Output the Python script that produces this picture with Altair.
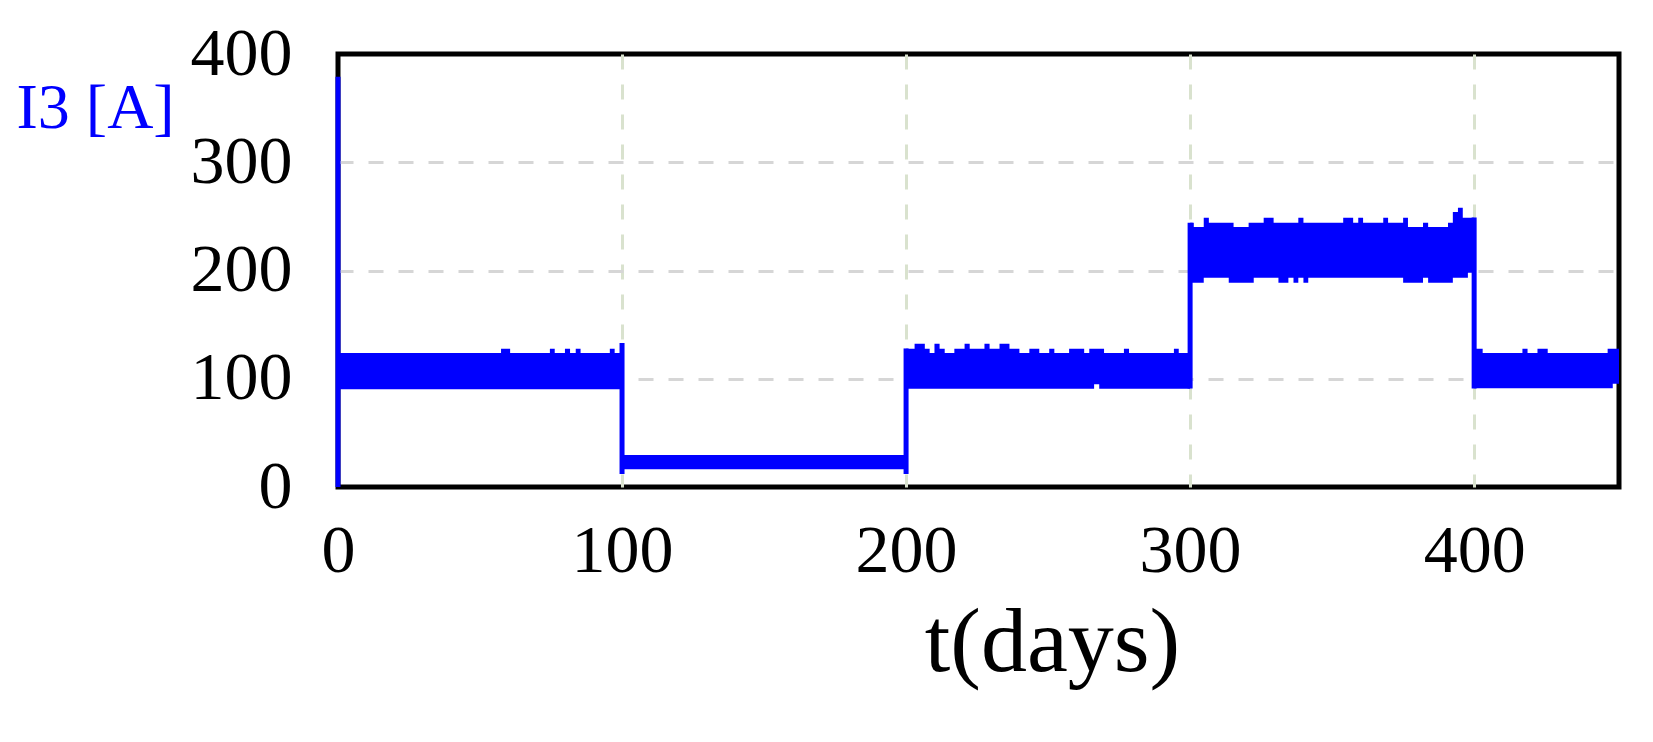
import altair as alt
import pandas as pd

# ---- data ----
# x tick values / y tick values
x_ticks = [0, 100, 200, 300, 400]
y_ticks = [0, 100, 200, 300, 400]

# Segment 1 (0-100 days)
seg1_top_x = [0, 57.4, 60.6, 74.6, 76.3, 79.9, 81.7, 83.7, 85.4, 95.7, 97.4]
seg1_top_y = [123.7, 127.7, 123.7, 127.7, 123.7, 127.7, 123.7, 127.7, 123.7, 127.7, 123.7]
seg1_bot_x = [0]
seg1_bot_y = [90.4]
seg1_end = 100

# Segment 2 (100-200 days)
seg2_top_x = [100]
seg2_top_y = [29.6]
seg2_bot_x = [100]
seg2_bot_y = [16.4]
seg2_end = 200

# Segment 3 (200-300 days)
seg3_top_x = [200, 203, 206.6, 208.3, 210, 211.8, 213.6, 217, 220.6, 222.4, 227.6, 229.4, 232.9,
              236.4, 239.9, 243.4, 246.9, 250.4, 252.2, 257.4, 262.7, 264.5, 269.7, 276.7, 278.5,
              294.3, 296]
seg3_top_y = [127.8, 132.4, 127.8, 123.8, 132.4, 127.8, 123.8, 127.8, 132.4, 127.8, 132.4, 127.8, 132.4,
              127.8, 123.8, 127.8, 123.8, 127.8, 123.8, 127.8, 123.8, 127.8, 123.8, 127.8, 123.8,
              127.8, 123.8]
seg3_bot_x = [200, 266.2, 268]
seg3_bot_y = [90.7, 95.0, 90.7]
seg3_end = 300

# Segment 4 (300-400 days)
seg4_top_x = [300, 301.3, 304.8, 306.6, 315.3, 320.6, 325.9, 329.4, 338.1, 339.9, 353.9, 357.4,
              359.2, 360.9, 368, 369.7, 375, 376.7, 382, 383.8, 390.8, 392.5, 394.3, 396]
seg4_top_y = [244.1, 240.1, 248.8, 244.1, 240.1, 244.1, 248.8, 244.1, 248.8, 244.1, 248.8, 244.1,
              248.8, 244.1, 248.8, 244.1, 248.8, 240.1, 244.1, 240.1, 244.1, 254.0, 258.0, 248.8]
seg4_bot_x = [300, 304.8, 313.6, 322.4, 331.1, 334.6, 336.4, 338.1, 339.9, 341.6, 375, 382,
              383.8, 392.5, 397.8]
seg4_bot_y = [188.6, 193.2, 188.6, 193.2, 188.6, 193.2, 188.6, 193.2, 188.6, 193.2, 188.6, 193.2,
              188.6, 193.2, 197.9]
seg4_end = 400

# Segment 5 (400-450 days)
seg5_top_x = [400, 403, 417, 418.8, 422.3, 425.9, 447]
seg5_top_y = [127.7, 123.7, 127.7, 123.7, 127.7, 123.7, 127.7]
seg5_bot_x = [400, 448.8]
seg5_bot_y = [91.3, 95.4]
seg5_end = 451

# Vertical jumps of the current between segments
jump_t = [0, 100, 200, 300, 400]
jump_lo = [0, 12, 12, 91, 91]
jump_hi = [379, 133, 128, 244, 249]


def build(seg_id, tx, ty, bx, by, end):
    bps = sorted(set(tx) | set(bx))
    rows = []
    for b in bps:
        hi = [ty[i] for i in range(len(tx)) if tx[i] <= b][-1]
        lo = [by[i] for i in range(len(bx)) if bx[i] <= b][-1]
        rows.append({"seg": seg_id, "t": b, "lo": lo, "hi": hi})
    rows.append({"seg": seg_id, "t": end, "lo": rows[-1]["lo"], "hi": rows[-1]["hi"]})
    return rows


rows = []
rows += build(1, seg1_top_x, seg1_top_y, seg1_bot_x, seg1_bot_y, seg1_end)
rows += build(2, seg2_top_x, seg2_top_y, seg2_bot_x, seg2_bot_y, seg2_end)
rows += build(3, seg3_top_x, seg3_top_y, seg3_bot_x, seg3_bot_y, seg3_end)
rows += build(4, seg4_top_x, seg4_top_y, seg4_bot_x, seg4_bot_y, seg4_end)
rows += build(5, seg5_top_x, seg5_top_y, seg5_bot_x, seg5_bot_y, seg5_end)
band_df = pd.DataFrame(rows)
jump_df = pd.DataFrame({"t": jump_t, "lo": jump_lo, "hi": jump_hi})

BLUE = "#0000ff"
FONT = "Liberation Serif"

xscale = alt.Scale(domain=[0, 451], nice=False, zero=False)
yscale = alt.Scale(domain=[0, 400], nice=False)

x_axis = alt.Axis(
    values=x_ticks, title="t(days)", domain=False, ticks=False,
    labelFont=FONT, labelFontSize=68, labelColor="black", labelPadding=30,
    labelFlush=False, labelOverlap=False,
    titleFont=FONT, titleFontSize=92, titleFontWeight="normal", titleColor="black",
    titleX=714, titleY=183, titleAlign="center", titleBaseline="alphabetic",
    grid=True, gridColor="#d9e2ce", gridDash=[15, 15], gridWidth=3,
    gridOpacity={"condition": {"test": "datum.value === 0", "value": 0}, "value": 1},
)
y_axis = alt.Axis(
    values=y_ticks, title="I3 [A]", domain=False, ticks=False,
    labelFont=FONT, labelFontSize=68, labelColor="black", labelPadding=46,
    labelFlush=False, labelOverlap=False, labelBaseline="middle",
    titleFont=FONT, titleFontSize=64, titleFontWeight="normal", titleColor=BLUE,
    titleAngle=0, titleX=-322, titleY=73, titleAlign="left", titleBaseline="alphabetic",
    grid=True, gridColor="#d6d6d6", gridDash=[15, 15], gridWidth=3,
    gridOpacity={"condition": {"test": "datum.value === 0 || datum.value === 400", "value": 0},
                 "value": 1},
)

band = alt.Chart(band_df).mark_area(
    interpolate="step-after", color=BLUE, opacity=1
).encode(
    x=alt.X("t:Q", scale=xscale, axis=x_axis),
    y=alt.Y("lo:Q", scale=yscale, axis=y_axis),
    y2="hi:Q",
    detail="seg:N",
)

jumps = alt.Chart(jump_df).mark_rule(color=BLUE, strokeWidth=5).encode(
    x=alt.X("t:Q", title="t(days)"),
    y=alt.Y("lo:Q", title="I3 [A]"),
    y2="hi:Q",
)

chart = alt.layer(band, jumps).properties(
    width=1281, height=433,
    autosize=alt.AutoSizeParams(type="none"),
    padding={"left": 330, "top": 46, "right": 26, "bottom": 240},
    background="white",
).configure_view(stroke="black", strokeWidth=5)

chart.save("out.html", embed_options={"renderer": "svg", "actions": False})
